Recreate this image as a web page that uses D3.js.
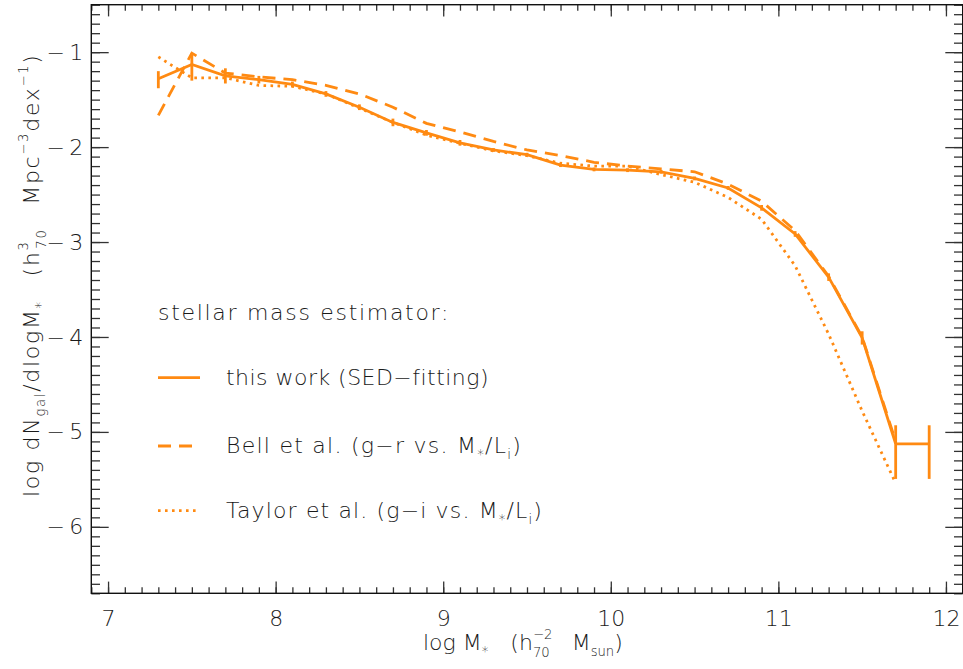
<!DOCTYPE html>
<html>
<head>
<meta charset="utf-8">
<script src="https://cdn.jsdelivr.net/npm/d3@7/dist/d3.min.js"></script>
<style>
  html, body { margin: 0; padding: 0; background: #fff; }
  svg text { font-family: "DejaVu Sans", "Liberation Sans", sans-serif; font-weight: 200; fill: #1a1a1a; }
</style>
</head>
<body>
<svg id="chart" width="963" height="669"></svg>
<script>
// Galaxy stellar mass function, bins of 0.2 dex in log M*
const logMass = [7.3, 7.5, 7.7, 7.9, 8.1, 8.3, 8.5, 8.7, 8.9, 9.1, 9.3, 9.5,
                 9.7, 9.9, 10.1, 10.3, 10.5, 10.7, 10.9, 11.1, 11.3, 11.5, 11.7];

// this work (SED-fitting) with asymmetric errors
const sedPhi = [-1.28, -1.13, -1.25, -1.29, -1.34, -1.44, -1.58, -1.74, -1.85, -1.955, -2.03, -2.08,
                -2.19, -2.235, -2.243, -2.26, -2.33, -2.43, -2.64, -2.915, -3.37, -4.01, -5.125];
const sedErrHi = [0.08, 0.12, 0.08, 0.04, 0.03, 0.03, 0.03, 0.04, 0.03, 0.03, 0.02, 0.02,
                  0.02, 0.02, 0.02, 0.02, 0.02, 0.02, 0.03, 0.03, 0.04, 0.07, 0.195];
const sedErrLo = [0.10, 0.17, 0.08, 0.04, 0.03, 0.03, 0.03, 0.04, 0.03, 0.03, 0.02, 0.02,
                  0.02, 0.02, 0.02, 0.02, 0.02, 0.02, 0.03, 0.03, 0.04, 0.07, 0.37];
// upper edge of the last (most massive) bin
const lastBinEdge = 11.9;

// Bell et al. (g-r vs. M*/Li)
const bellPhi = [-1.665, -1.01, -1.22, -1.26, -1.29, -1.35, -1.44, -1.58, -1.75, -1.84, -1.94, -2.03,
                 -2.09, -2.16, -2.20, -2.23, -2.26, -2.39, -2.57, -2.88, -3.36, -4.00, -5.10];

// Taylor et al. (g-i vs. M*/Li)
const taylorPhi = [-1.05, -1.27, -1.27, -1.35, -1.36, -1.44, -1.59, -1.74, -1.875, -1.96, -2.04, -2.09,
                   -2.17, -2.20, -2.20, -2.29, -2.37, -2.53, -2.76, -3.25, -3.97, -4.78, -5.54];

const xMajorTicks = [7, 8, 9, 10, 11, 12];
const yMajorTicks = [-1, -2, -3, -4, -5, -6];

const orange = "#ff8a12";
const svg = d3.select("#chart");

const x = d3.scaleLinear().domain([6.9, 12.1]).range([91.3, 962.7]);
const y = d3.scaleLinear().domain([-0.5, -6.7]).range([4.7, 593.3]);

const minorX = d3.range(69, 122).map(v => v / 10);
const minorY = d3.range(-67, -4).map(v => v / 10);

const fmt = v => (v < 0 ? "\u2212\u2009" + Math.abs(v) : String(v));

// ---- axes (ticks point inward on all four sides) ----
function styleAxis(g) {
  g.select(".domain").remove();
  g.selectAll(".tick line").attr("stroke", "#333").attr("stroke-width", 1.3);
}
const plotBottom = y.range()[1], plotTop = y.range()[0];
const plotLeft = x.range()[0], plotRight = x.range()[1];

svg.append("g").attr("transform", `translate(0,${plotBottom})`)
  .call(d3.axisBottom(x).tickValues(minorX).tickSize(-6).tickFormat(""))
  .call(styleAxis);
const xb = svg.append("g").attr("transform", `translate(0,${plotBottom})`)
  .call(d3.axisBottom(x).tickValues(xMajorTicks).tickSize(-11.7).tickPadding(17).tickFormat(fmt))
  .call(styleAxis);
svg.append("g").attr("transform", `translate(0,${plotTop})`)
  .call(d3.axisTop(x).tickValues(minorX).tickSize(-6).tickFormat(""))
  .call(styleAxis);
svg.append("g").attr("transform", `translate(0,${plotTop})`)
  .call(d3.axisTop(x).tickValues(xMajorTicks).tickSize(-11.7).tickFormat(""))
  .call(styleAxis);

svg.append("g").attr("transform", `translate(${plotLeft},0)`)
  .call(d3.axisLeft(y).tickValues(minorY).tickSize(-8.7).tickFormat(""))
  .call(styleAxis);
const yl = svg.append("g").attr("transform", `translate(${plotLeft},0)`)
  .call(d3.axisLeft(y).tickValues(yMajorTicks).tickSize(-17.4).tickPadding(8).tickFormat(fmt))
  .call(styleAxis);
svg.append("g").attr("transform", `translate(${plotRight},0)`)
  .call(d3.axisRight(y).tickValues(minorY).tickSize(-8.7).tickFormat(""))
  .call(styleAxis);
svg.append("g").attr("transform", `translate(${plotRight},0)`)
  .call(d3.axisRight(y).tickValues(yMajorTicks).tickSize(-17.4).tickFormat(""))
  .call(styleAxis);

[xb, yl].forEach(g => g.selectAll(".tick text")
  .attr("font-size", 22).attr("fill", "#1a1a1a")
  .style("font-family", "DejaVu Sans, sans-serif").style("font-weight", 200));

// frame
svg.append("rect")
  .attr("x", plotLeft).attr("y", plotTop)
  .attr("width", plotRight - plotLeft).attr("height", plotBottom - plotTop)
  .attr("fill", "none").attr("stroke", "#111").attr("stroke-width", 1.4);

// ---- curves ----
const line = d3.line().x(d => x(d[0])).y(d => y(d[1]));
const lineStyle = { solid: null, dashed: "13,8", dotted: "2.6,4.4" };
const lineWidth = 2.8;

function drawCurve(values, dash) {
  svg.append("path")
    .datum(logMass.map((m, i) => [m, values[i]]))
    .attr("d", line)
    .attr("fill", "none")
    .attr("stroke", orange)
    .attr("stroke-width", lineWidth)
    .attr("stroke-dasharray", dash);
}
drawCurve(taylorPhi, lineStyle.dotted);
drawCurve(bellPhi, lineStyle.dashed);
drawCurve(sedPhi, lineStyle.solid);

// error bars on this work
const errs = logMass.map((m, i) => ({ m, v: sedPhi[i], hi: sedErrHi[i], lo: sedErrLo[i] }));
svg.append("g").selectAll("line").data(errs).join("line")
  .attr("x1", d => x(d.m)).attr("x2", d => x(d.m))
  .attr("y1", d => y(d.v + d.hi)).attr("y2", d => y(d.v - d.lo))
  .attr("stroke", orange).attr("stroke-width", lineWidth);

// last bin drawn across its full width
const last = errs[errs.length - 1];
svg.append("line")
  .attr("x1", x(last.m)).attr("x2", x(lastBinEdge))
  .attr("y1", y(last.v)).attr("y2", y(last.v))
  .attr("stroke", orange).attr("stroke-width", lineWidth);
svg.append("line")
  .attr("x1", x(lastBinEdge)).attr("x2", x(lastBinEdge))
  .attr("y1", y(last.v + last.hi)).attr("y2", y(last.v - last.lo))
  .attr("stroke", orange).attr("stroke-width", lineWidth);

// ---- rich text with sub/superscripts ----
// kinds: "sub", "sup", "subx" (subscript stacked under the preceding superscript)
function writeParts(textSel, parts) {
  let shifted = 0;
  let prevWidth = 0;
  parts.forEach(([s, kind]) => {
    const t = textSel.append("tspan").text(s);
    let target = 0;
    if (kind === "sub") target = 6;
    if (kind === "subx") target = 7;
    if (kind === "sup") target = -11;
    if (kind) t.attr("font-size", "0.6em");
    t.attr("dy", target - shifted);
    if (kind === "subx") t.attr("dx", -prevWidth);
    shifted = target;
    prevWidth = t.node().getComputedTextLength();
  });
}

// stretch a text's letter spacing so that it spans the given width
function spanWidth(textSel, width) {
  const node = textSel.node();
  const natural = node.getComputedTextLength();
  const n = node.textContent.length;
  textSel.style("letter-spacing", ((width - natural) / n) + "px");
}

// ---- legend ----
const legendTitle = "stellar mass estimator:";
const lt = svg.append("text").attr("x", 158).attr("y", 320).attr("font-size", 22).text(legendTitle);
spanWidth(lt, 292);

const legendRows = [
  { dash: lineStyle.solid, y: 377.7, base: 385, width: 263, parts: [["this work (SED\u2212fitting)"]] },
  { dash: lineStyle.dashed, y: 446, base: 452.7, width: 296,
    parts: [["Bell et al. (g\u2212r vs. M"], ["*", "sub"], ["/L"], ["i", "sub"], [")"]] },
  { dash: lineStyle.dotted, y: 510.7, base: 518, width: 317,
    parts: [["Taylor et al. (g\u2212i vs. M"], ["*", "sub"], ["/L"], ["i", "sub"], [")"]] }
];

legendRows.forEach(r => {
  svg.append("line")
    .attr("x1", 158).attr("x2", 200).attr("y1", r.y).attr("y2", r.y)
    .attr("stroke", orange).attr("stroke-width", lineWidth)
    .attr("stroke-dasharray", r.dash);
  const t = svg.append("text").attr("x", 226).attr("y", r.base).attr("font-size", 22);
  writeParts(t, r.parts);
  spanWidth(t, r.width);
});

// ---- axis titles ----
const xt = svg.append("text").attr("x", 423).attr("y", 650).attr("font-size", 22);
writeParts(xt, [["log M"], ["*", "sub"], ["\u2003(h"], ["\u22122", "sup"], ["70", "subx"],
                ["\u2003M"], ["sun", "sub"], [")"]]);

const yt = svg.append("text")
  .attr("transform", "translate(39,497) rotate(-90)")
  .attr("font-size", 22);
writeParts(yt, [["log dN"], ["gal", "sub"], ["/dlogM"], ["*", "sub"], ["\u2003(h"], ["3", "sup"], ["70", "subx"],
                ["\u2003Mpc"], ["\u22123", "sup"], ["dex"], ["\u22121", "sup"], [")"]]);
spanWidth(yt, 452);
</script>
</body>
</html>
